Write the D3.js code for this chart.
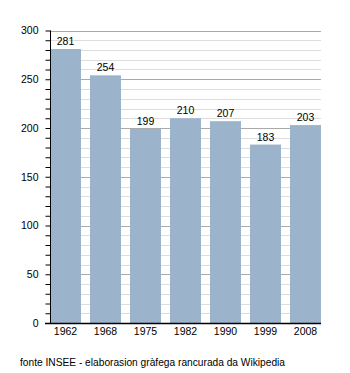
<!DOCTYPE html>
<html>
<head>
<meta charset="utf-8">
<script src="https://cdn.jsdelivr.net/npm/d3@7"></script>
<style>
  html, body { margin: 0; padding: 0; background: #fff; }
  svg { display: block; font-family: "Liberation Sans", Arial, sans-serif; }
</style>
</head>
<body>
<svg id="chart" width="350" height="373"></svg>
<script>
// Population by census year
const years = ["1962", "1968", "1975", "1982", "1990", "1999", "2008"];
const population = [281, 254, 199, 210, 207, 183, 203];
const yTickLabels = [0, 50, 100, 150, 200, 250, 300];
const sourceNote = "fonte INSEE - elaborasion gràfega rancurada da Wikipedia";

const svg = d3.select("#chart");
const plotLeft = 50, plotRight = 321, plotTop = 30.5, plotBottom = 323;
const fontSize = 10.5;

const x = d3.scaleBand().domain(years).range([plotLeft, plotRight])
  .paddingInner(0.225).paddingOuter(0);
const y = d3.scaleLinear().domain([0, 300]).range([plotBottom, plotTop]);

// Minor grid every 10, major grid every 50
const minor = d3.range(10, 301, 10).filter(v => v % 50 !== 0);
svg.append("g").selectAll("line").data(minor).join("line")
  .attr("x1", plotLeft).attr("x2", plotRight)
  .attr("y1", d => Math.round(y(d)) + 0.5).attr("y2", d => Math.round(y(d)) + 0.5)
  .attr("stroke", "#dddddd").attr("stroke-width", 1);
svg.append("g").selectAll("line").data(yTickLabels.filter(v => v > 0)).join("line")
  .attr("x1", plotLeft).attr("x2", plotRight)
  .attr("y1", d => Math.round(y(d)) + 0.5).attr("y2", d => Math.round(y(d)) + 0.5)
  .attr("stroke", "#aaaaaa").attr("stroke-width", 1);

// Bars
svg.append("g").selectAll("rect").data(population).join("rect")
  .attr("x", (d, i) => x(years[i]))
  .attr("width", x.bandwidth())
  .attr("y", d => y(d))
  .attr("height", d => plotBottom - y(d))
  .attr("fill", "#9bb3cb");

// Value labels
svg.append("g").selectAll("text").data(population).join("text")
  .attr("x", (d, i) => x(years[i]) + x.bandwidth() / 2)
  .attr("y", d => y(d) - 4)
  .attr("text-anchor", "middle")
  .attr("font-size", fontSize)
  .attr("fill", "#000")
  .text(d => d);

// Y axis with minor ticks
const yAxis = d3.axisLeft(y).tickValues(d3.range(0, 301, 10))
  .tickSize(5).tickPadding(7)
  .tickFormat(d => yTickLabels.includes(d) ? d : "");
const gy = svg.append("g").attr("transform", `translate(${plotLeft + 0.5},0)`).call(yAxis);
gy.select(".domain").remove();
gy.selectAll("text").attr("font-size", fontSize).attr("fill", "#000")
  .attr("font-family", '"Liberation Sans", Arial, sans-serif');
gy.selectAll("line").attr("stroke", "#000");
svg.append("line").attr("x1", plotLeft + 0.5).attr("x2", plotLeft + 0.5)
  .attr("y1", plotTop).attr("y2", plotBottom).attr("stroke", "#000");

// X axis
const xAxis = d3.axisBottom(x).tickSize(0).tickPadding(5);
const gx = svg.append("g").attr("transform", `translate(0,${plotBottom})`).call(xAxis);
gx.select(".domain").remove();
gx.selectAll("text").attr("font-size", fontSize).attr("fill", "#000")
  .attr("font-family", '"Liberation Sans", Arial, sans-serif');
svg.append("line").attr("x1", plotLeft - 5).attr("x2", plotRight)
  .attr("y1", plotBottom + 0.5).attr("y2", plotBottom + 0.5)
  .attr("stroke", "#000").attr("stroke-width", 1.5);

// Source note
svg.append("text").attr("x", 20).attr("y", 366)
  .attr("font-size", 10.2).attr("fill", "#000")
  .text(sourceNote);
</script>
</body>
</html>
